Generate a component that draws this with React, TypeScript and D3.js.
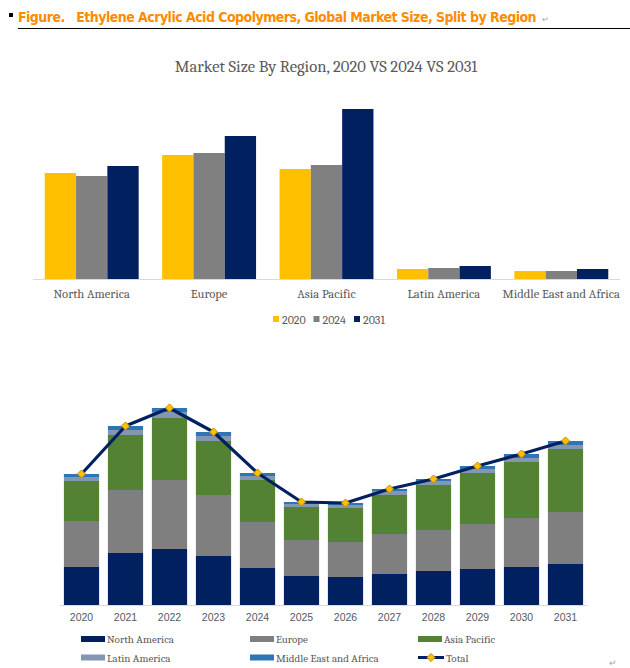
import React, { useRef, useLayoutEffect, useState } from 'react'
import * as d3 from 'd3'

// bar chart: market size by region (relative units)
const regions = ['North America', 'Europe', 'Asia Pacific', 'Latin America', 'Middle East and Africa']
const size2020 = [106, 124, 110, 10, 8]
const size2024 = [103, 126, 114, 11, 8]
const size2031 = [113, 143, 170, 13, 10]
const barYears = ['2020', '2024', '2031']

// stacked chart: yearly split by region
const years = ['2020', '2021', '2022', '2023', '2024', '2025', '2026', '2027', '2028', '2029', '2030', '2031']
const northAmerica = [38, 52, 56, 49, 37, 29, 28, 31, 34, 36, 38, 41]
const europe = [46, 63, 69, 61, 46, 36, 35, 40, 41, 45, 49, 52]
const asiaPacific = [40, 55, 62, 54, 42, 33, 34, 39, 45, 51, 56, 63]
const latinAmerica = [4, 5, 6, 5, 4, 3, 3, 4, 4, 4, 4, 4]
const middleEast = [3, 4, 4, 4, 3, 2, 2, 2, 2, 3, 4, 4]

const barColors = ['#FFC000', '#808080', '#002060']
const stackKeys = ['North America', 'Europe', 'Asia Pacific', 'Latin America', 'Middle East and Africa']
const stackColors = ['#002060', '#7F7F7F', '#548235', '#8497B0', '#2E75B6']

const figTitle = 'Figure.   Ethylene Acrylic Acid Copolymers, Global Market Size, Split by Region'
const serif = 'Cambria, "Liberation Serif", "DejaVu Serif", serif'
const sans = '"Liberation Sans", Arial, sans-serif'
const textGrey = '#595959'

function FigureTitle() {
  const ref = useRef<SVGTextElement>(null)
  const [spacing, setSpacing] = useState(0)
  const target = 518

  // squeeze letters so the heading ends where the reference does
  useLayoutEffect(() => {
    if (!ref.current || spacing !== 0) return
    const w = ref.current.getComputedTextLength()
    setSpacing((target - w) / figTitle.length)
  }, [spacing])

  return (
    <text ref={ref} x={18} y={22} fontFamily='"DejaVu Sans Condensed", "DejaVu Sans", sans-serif' fontWeight="bold"
      fontSize={14} fill="#FF8C00" style={{ whiteSpace: 'pre', letterSpacing: `${spacing}px` }}>
      {figTitle}
    </text>
  )
}

function RegionBars() {
  const x0 = d3.scaleBand().domain(regions).range([33, 620]).paddingInner(0.2).paddingOuter(0.1)
  const x1 = d3.scaleBand().domain(barYears).range([0, x0.bandwidth()])
  const y = d3.scaleLinear().domain([0, 170]).range([279, 109])
  const seriesVals = [size2020, size2024, size2031]

  return (
    <g>
      <text x={326} y={72} textAnchor="middle" fontFamily={serif} fontSize={16.6} fill={textGrey}>
        Market Size By Region, 2020 VS 2024 VS 2031
      </text>
      {regions.map((r, i) => (
        <g key={r} transform={`translate(${x0(r)},0)`}>
          {barYears.map((yr, j) => (
            <rect
              key={yr}
              x={x1(yr)}
              y={y(seriesVals[j][i])}
              width={x1.bandwidth()}
              height={y(0) - y(seriesVals[j][i])}
              fill={barColors[j]}
            />
          ))}
        </g>
      ))}
      <line x1={33} x2={620} y1={279.5} y2={279.5} stroke="#D9D9D9" strokeWidth={1} />
      {regions.map(r => (
        <text key={r} x={(x0(r) || 0) + x0.bandwidth() / 2} y={297.5} textAnchor="middle"
          fontFamily={serif} fontSize={12.6} fill={textGrey}>{r}</text>
      ))}
      {barYears.map((yr, j) => (
        <g key={yr} transform={`translate(${273 + j * 40.5},316)`}>
          <rect x={0} y={0} width={6} height={6} fill={barColors[j]} />
          <text x={9} y={7.5} fontFamily={serif} fontSize={12} fill={textGrey}>{yr}</text>
        </g>
      ))}
    </g>
  )
}

function StackedYears() {
  const x = d3.scaleBand().domain(years).range([59.5, 587.5]).paddingInner(0.2).paddingOuter(0.1)
  const y = d3.scaleLinear().domain([0, 200]).range([605, 405])
  const cols = [northAmerica, europe, asiaPacific, latinAmerica, middleEast]
  const rows = years.map((yr, i) => {
    const row: any = { year: yr }
    stackKeys.forEach((k, j) => { row[k] = cols[j][i] })
    return row
  })
  const stacked = d3.stack<any>().keys(stackKeys)(rows)
  const totals = years.map((yr, i) => cols.reduce((s, c) => s + c[i], 0))
  const cx = (yr: string) => (x(yr) || 0) + x.bandwidth() / 2
  const line = d3.line<number>().x((d, i) => cx(years[i])).y(d => y(d))
  const diamond = d3.symbol().type(d3.symbolDiamond2).size(42)()

  const legend = [
    { label: 'North America', color: stackColors[0], col: 0, row: 0 },
    { label: 'Europe', color: stackColors[1], col: 1, row: 0 },
    { label: 'Asia Pacific', color: stackColors[2], col: 2, row: 0 },
    { label: 'Latin America', color: stackColors[3], col: 0, row: 1 },
    { label: 'Middle East and Africa', color: stackColors[4], col: 1, row: 1 },
  ]
  const colX = [81, 250, 418]

  return (
    <g>
      {stacked.map((layer, j) => (
        <g key={layer.key} fill={stackColors[j]}>
          {layer.map((d: any, i: number) => (
            <rect key={i} x={x(years[i])} y={y(d[1])} width={x.bandwidth()} height={y(d[0]) - y(d[1])} />
          ))}
        </g>
      ))}
      <line x1={59.5} x2={587.5} y1={605.5} y2={605.5} stroke="#D9D9D9" strokeWidth={1} />
      <path d={line(totals) || ''} fill="none" stroke="#002060" strokeWidth={3.2} strokeLinejoin="round" />
      {totals.map((t, i) => (
        <path key={i} d={diamond || ''} transform={`translate(${cx(years[i])},${y(t)})`}
          fill="#FFC000" stroke="#BF9000" strokeWidth={1} />
      ))}
      {years.map(yr => (
        <text key={yr} x={cx(yr)} y={621} textAnchor="middle" fontFamily={sans} fontSize={10.5} fill={textGrey}>{yr}</text>
      ))}
      {legend.map(l => (
        <g key={l.label} transform={`translate(${colX[l.col]},${639 + l.row * 18.5})`}>
          <rect x={0} y={-3} width={24} height={6} fill={l.color} />
          <text x={26} y={4} fontFamily={serif} fontSize={11} fill={textGrey}>{l.label}</text>
        </g>
      ))}
      <g transform={`translate(${colX[2]},${657.5})`}>
        <line x1={0} x2={26} y1={0} y2={0} stroke="#002060" strokeWidth={3} />
        <path d={diamond || ''} transform="translate(13,0)" fill="#FFC000" stroke="#BF9000" strokeWidth={1} />
        <text x={28} y={4} fontFamily={serif} fontSize={11} fill={textGrey}>Total</text>
      </g>
    </g>
  )
}

export default function App() {
  return (
    <svg width={630} height={668} style={{ position: 'absolute', left: 0, top: 0, background: '#fff' }}>
      <rect x={9} y={13} width={4} height={4} fill="#000" />
      <FigureTitle />
      <text x={542} y={22} fontFamily={sans} fontSize={8} fill="#A6A6A6">↵</text>
      <line x1={18} x2={630} y1={28.5} y2={28.5} stroke="#000" strokeWidth={1} />
      <RegionBars />
      <StackedYears />
      <text x={609} y={666} fontFamily={sans} fontSize={9} fill="#A6A6A6">↵</text>
    </svg>
  )
}
